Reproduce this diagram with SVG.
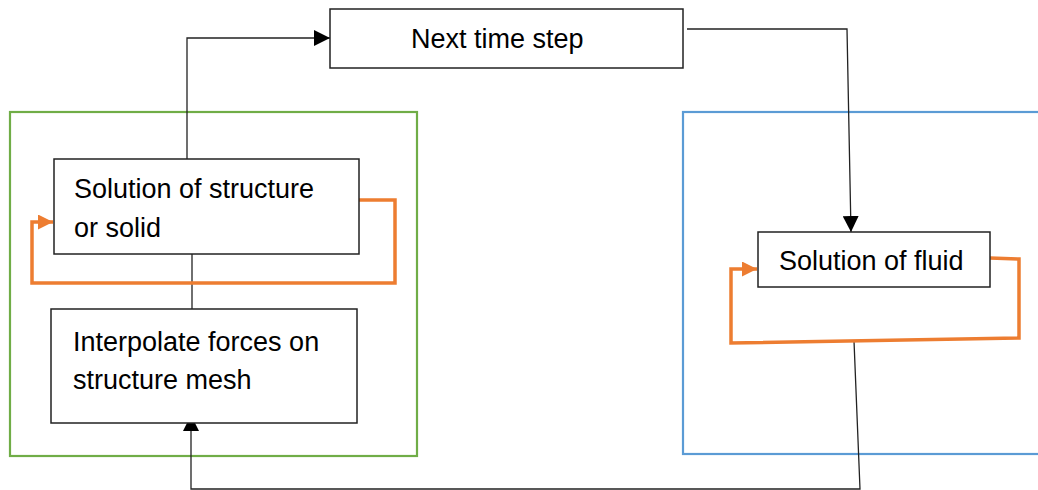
<svg xmlns="http://www.w3.org/2000/svg" width="1038" height="490" viewBox="0 0 1038 490">
<style>
.box{fill:#fff;stroke:#222;stroke-width:1.5}
.lbl{font-family:"Liberation Sans",Arial,sans-serif;font-size:27px;fill:#000}
.con{fill:none;stroke:#222;stroke-width:1.3}
.loop{fill:none;stroke:#ED7D31;stroke-width:3.5;stroke-linejoin:miter}
</style>
<defs>
<marker id="ab" viewBox="0 0 10 10" refX="10" refY="5" markerUnits="userSpaceOnUse" markerWidth="16" markerHeight="16" orient="auto"><path d="M0,0 L10,5 L0,10 z" fill="#000"/></marker>
<marker id="ao" viewBox="0 0 10 10" refX="10" refY="5" markerUnits="userSpaceOnUse" markerWidth="16" markerHeight="15" orient="auto"><path d="M0,0 L10,5 L0,10 z" fill="#ED7D31"/></marker>
</defs>
<rect width="1038" height="490" fill="#fff"/>
<g id="groups">
<rect id="structure-group" x="10" y="112" width="407" height="344" fill="none" stroke="#70AD47" stroke-width="2.2"/>
<rect id="fluid-group" x="683" y="112" width="380" height="342" fill="none" stroke="#5B9BD5" stroke-width="2.2"/>
</g>
<g id="connectors">
<polyline class="con" points="187,159 187,38 330,38" marker-end="url(#ab)"/>
<polyline class="con" points="687,29 847,29 851,232" marker-end="url(#ab)"/>
<line class="con" x1="192" y1="254" x2="192" y2="309"/>
<polyline class="con" points="854,341 860,489 191,489 191,415" marker-end="url(#ab)"/>
<polyline class="loop" points="359,200 395,200 395,283 32,283 32,222 53,222" marker-end="url(#ao)"/>
<polyline class="loop" points="990,258 1019,259 1019,338 731,343 731,269 757,269" marker-end="url(#ao)"/>
</g>
<g id="next-time-step">
<rect class="box" x="330" y="9" width="353" height="59"/>
<text class="lbl" x="411" y="48">Next time step</text>
</g>
<g id="solution-structure">
<rect class="box" x="54" y="159" width="305" height="95"/>
<text class="lbl" x="74" y="198">Solution of structure</text>
<text class="lbl" x="74" y="237">or solid</text>
</g>
<g id="interpolate-forces">
<rect class="box" x="51" y="309" width="306" height="114"/>
<text class="lbl" x="73" y="351">Interpolate forces on</text>
<text class="lbl" x="73" y="389">structure mesh</text>
</g>
<g id="solution-fluid">
<rect class="box" x="758" y="232" width="232" height="55"/>
<text class="lbl" x="779" y="270">Solution of fluid</text>
</g>
</svg>
